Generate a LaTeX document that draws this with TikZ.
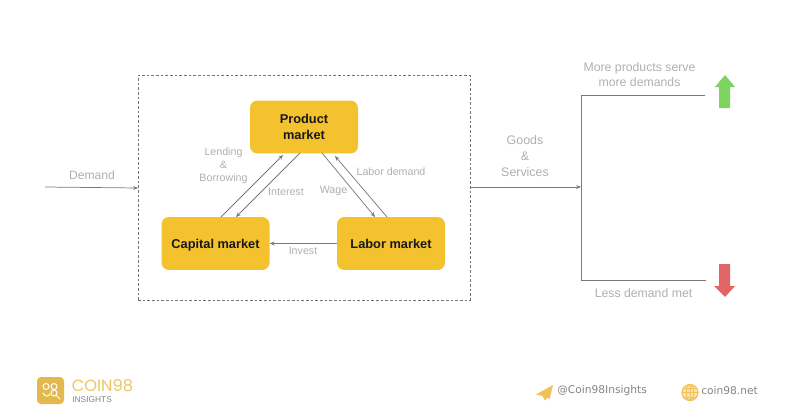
\documentclass[tikz,border=0pt]{standalone}
\usepackage{fontspec}
\setmainfont{Liberation Sans}
\newfontfamily\logofont{Poppins}
\newfontfamily\wide{DejaVu Sans}
\usetikzlibrary{arrows.meta}
\definecolor{boxy}{HTML}{F3C22E}
\definecolor{lab}{HTML}{B0B0B0}
\definecolor{lnk}{HTML}{7A7A7A}
\definecolor{gold}{HTML}{EBC766}
\definecolor{goldd}{HTML}{E3B84F}
\definecolor{iconc}{HTML}{F2C157}
\definecolor{foot}{HTML}{858585}
\tikzset{
  market/.style={draw=none,fill=boxy,rounded corners=5.5pt,minimum width=81pt,minimum height=39.7pt,inner sep=0pt,align=center,font=\fontsize{9.6pt}{12.2pt}\selectfont\bfseries,text=black!90},
  lbl/.style={text=lab,font=\fontsize{8pt}{9.8pt}\selectfont,align=center,inner sep=0pt},
  biglbl/.style={text=lab,font=\fontsize{9.3pt}{12pt}\selectfont,align=center,inner sep=0pt},
  link/.style={draw=lnk,line width=0.55pt,-{Stealth[length=3.6pt,width=3pt]}},
  plain/.style={draw=lnk,line width=0.6pt},
}
\begin{document}
\begin{tikzpicture}[x=0.75pt,y=-0.75pt]
\useasboundingbox (0,0) rectangle (800,418);
\fill[white] (0,0) rectangle (800,418);
% dashed frame
\node[draw=black!55,dash pattern=on 2pt off 1.5pt,line width=0.4pt,minimum width=249pt,minimum height=168.5pt,inner sep=0pt] (frame) at (304,187.5) {};
% markets
\node[market] (product) at (304,127) {Product\\market};
\node[market,text depth=0pt] (capital) at (215.5,243.5) {Capital market};
\node[market,text depth=0pt] (labor) at (391,243.5) {Labor market};
% inner connectors
\coordinate (c1) at (221,217); \coordinate (p1) at (283,155);
\coordinate (p2) at (300,153); \coordinate (c2) at (236,217);
\coordinate (p3) at (322,153); \coordinate (l3) at (375,217);
\coordinate (l4) at (387,217); \coordinate (p4) at (335,156);
\draw[link] (c1) -- (p1);
\draw[link] (p2) -- (c2);
\draw[link] (p3) -- (l3);
\draw[link] (l4) -- (p4);
\draw[link] (labor.west) -- (capital.east);
% outer connectors
\coordinate (dstart) at (45,187);
\coordinate (fl) at (138,188);
\coordinate (fr) at (470,187);
\coordinate (junction) at (581,187);
\coordinate (tr) at (705,95.5);
\coordinate (tl) at (581.5,95.5);
\coordinate (bl) at (581.5,280.5);
\coordinate (br) at (706,280.5);
\draw[link] (dstart) -- (fl);
\draw[link] (fr) -- (junction);
\draw[plain] (tr) -- (tl) -- (bl) -- (br);
% labels
\node[lbl] (lend) at (223.5,165.5) {Lending\\\&\\Borrowing};
\node[lbl] (interest) at (286,192) {Interest};
\node[lbl] (wage) at (333.5,190.5) {Wage};
\node[lbl] (ldem) at (391,171.5) {Labor demand};
\node[lbl] (invest) at (303,251) {Invest};
\node[biglbl,font=\fontsize{9.1pt}{11pt}\selectfont] (demand) at (92,175) {Demand};
\node[biglbl] (goods) at (525,156) {Goods\\\&\\Services};
\node[lbl,font=\fontsize{9.2pt}{11pt}\selectfont] (more) at (639.5,74.5) {More products serve\\more demands};
\node[lbl,font=\fontsize{9.2pt}{11pt}\selectfont] (less) at (643.5,293.5) {Less demand met};
% big arrows
\fill[fill={rgb,255:red,126;green,212;blue,96}] (725,75) -- (735,87) -- (730,87) -- (730,108) -- (719,108) -- (719,87) -- (715,87) -- cycle;
\fill[fill={rgb,255:red,226;green,100;blue,100}] (725,297) -- (735,286) -- (730,286) -- (730,264) -- (719,264) -- (719,286) -- (714,286) -- cycle;
% logo
\fill[goldd] (37,377) [rounded corners=3pt] rectangle (64,404);
\begin{scope}[white,line width=0.75pt,line cap=round]
  \draw (46,386.5) circle (3);
  \draw (54,386.5) circle (3);
  \draw (54,393) circle (3);
  \draw (56.5,395.5) -- (60,399);
  \draw (43,393) .. controls (45,397) and (48,397) .. (50,394);
\end{scope}
\node[anchor=west,inner sep=0pt,text=gold,font=\logofont\fontsize{12.2pt}{12pt}\selectfont] (coin) at (71.5,386) {COIN98};
\node[anchor=west,inner sep=0pt,text=foot,font=\fontsize{6.3pt}{7pt}\selectfont] (ins) at (72,399.5) {INSIGHTS};
% telegram icon
\fill[iconc] (553,385) -- (536,394.5) -- (542.5,396) -- (545,400.5) -- (547.5,397.5) -- (549.5,399.5) -- cycle;
% globe
\begin{scope}[iconc,line width=0.6pt]
  \fill[iconc!45] (690,392.5) circle (8);
  \draw[line width=0.9pt] (690,392.5) circle (8);
  \draw (690,392.5) ellipse (3.8 and 8);
  \draw (690,384.5) -- (690,400.5);
  \draw (682,392.5) -- (698,392.5);
  \draw (683.5,388) -- (696.5,388);
  \draw (683.5,397) -- (696.5,397);
\end{scope}
\node[anchor=west,inner sep=0pt,text=foot,font=\wide\fontsize{8pt}{9pt}\selectfont] (tg) at (557,391) {@Coin98Insights};
\node[anchor=west,inner sep=0pt,text=foot,font=\wide\fontsize{8pt}{9pt}\selectfont] (web) at (701,391) {coin98.net};
\end{tikzpicture}
\end{document}
